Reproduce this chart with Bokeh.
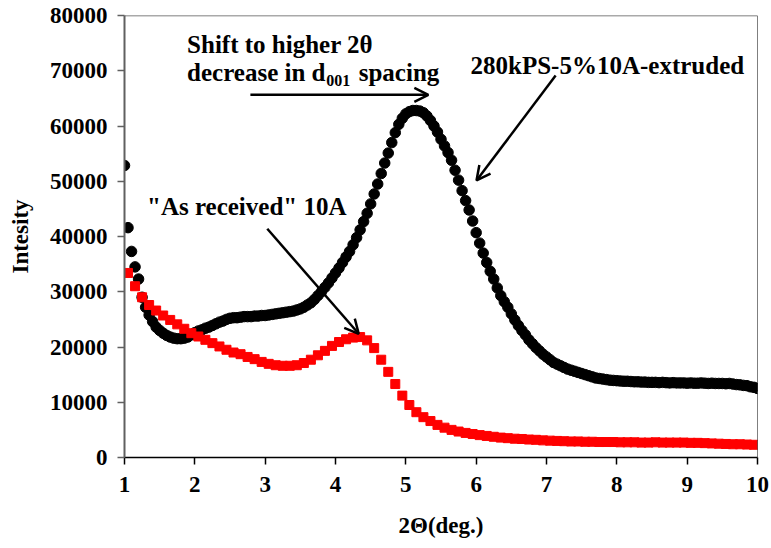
from bokeh.plotting import figure
from bokeh.models import FixedTicker, Label, Arrow, OpenHead, Span
from bokeh.embed import file_html
from bokeh.resources import INLINE

# ---- data ----
theta_black = [1.00, 1.05, 1.10, 1.15, 1.20, 1.25, 1.30, 1.35, 1.40, 1.45,
               1.50, 1.55, 1.60, 1.65, 1.70, 1.75, 1.80, 1.85, 1.90, 1.95,
               2.00, 2.05, 2.10, 2.15, 2.20, 2.25, 2.30, 2.35, 2.40, 2.45,
               2.50, 2.55, 2.60, 2.65, 2.70, 2.75, 2.80, 2.85, 2.90, 2.95,
               3.00, 3.05, 3.10, 3.15, 3.20, 3.25, 3.30, 3.35, 3.40, 3.45,
               3.50, 3.55, 3.60, 3.65, 3.70, 3.75, 3.80, 3.85, 3.90, 3.95,
               4.00, 4.05, 4.10, 4.15, 4.20, 4.25, 4.30, 4.35, 4.40, 4.45,
               4.50, 4.55, 4.60, 4.65, 4.70, 4.75, 4.80, 4.85, 4.90, 4.95,
               5.00, 5.05, 5.10, 5.15, 5.20, 5.25, 5.30, 5.35, 5.40, 5.45,
               5.50, 5.55, 5.60, 5.65, 5.70, 5.75, 5.80, 5.85, 5.90, 5.95,
               6.00, 6.05, 6.10, 6.15, 6.20, 6.25, 6.30, 6.35, 6.40, 6.45,
               6.50, 6.55, 6.60, 6.65, 6.70, 6.75, 6.80, 6.85, 6.90, 6.95,
               7.00, 7.05, 7.10, 7.15, 7.20, 7.25, 7.30, 7.35, 7.40, 7.45,
               7.50, 7.55, 7.60, 7.65, 7.70, 7.75, 7.80, 7.85, 7.90, 7.95,
               8.00, 8.05, 8.10, 8.15, 8.20, 8.25, 8.30, 8.35, 8.40, 8.45,
               8.50, 8.55, 8.60, 8.65, 8.70, 8.75, 8.80, 8.85, 8.90, 8.95,
               9.00, 9.05, 9.10, 9.15, 9.20, 9.25, 9.30, 9.35, 9.40, 9.45,
               9.50, 9.55, 9.60, 9.65, 9.70, 9.75, 9.80, 9.85, 9.90, 9.95,
               10.00]
int_extruded = [52850, 41600, 37300, 34500, 32300, 29000, 27200, 25800, 24600, 23600,
                23000, 22500, 22100, 21800, 21600, 21500, 21500, 21600, 21800, 22200,
                22600, 22900, 23100, 23400, 23600, 23900, 24200, 24500, 24700, 25000,
                25200, 25300, 25300, 25400, 25500, 25500, 25500, 25600, 25600, 25700,
                25700, 25800, 25900, 26000, 26100, 26200, 26300, 26400, 26500, 26700,
                26900, 27200, 27600, 28000, 28600, 29300, 30000, 30800, 31600, 32500,
                33400, 34300, 35300, 36300, 37300, 38500, 39800, 41200, 42700, 44200,
                45900, 47700, 49500, 51400, 53300, 55100, 57000, 58800, 60300, 61400,
                62200, 62600, 62800, 62800, 62700, 62400, 61800, 61000, 60000, 58900,
                57600, 56400, 55200, 53800, 52000, 50200, 48300, 46500, 44800, 42800,
                40700, 38800, 37000, 35300, 33700, 32300, 30700, 29300, 28200, 27200,
                26000, 24900, 23900, 23000, 22200, 21300, 20600, 19900, 19300, 18700,
                18200, 17700, 17200, 16900, 16600, 16300, 16000, 15800, 15600, 15400,
                15200, 15000, 14800, 14600, 14400, 14300, 14200, 14100, 14000, 13950,
                13900, 13850, 13800, 13800, 13750, 13700, 13700, 13650, 13650, 13600,
                13600, 13600, 13550, 13600, 13550, 13500, 13550, 13500, 13500, 13500,
                13450, 13500, 13450, 13450, 13500, 13450, 13400, 13450, 13400, 13400,
                13400, 13350, 13400, 13300, 13200, 13150, 13050, 13000, 12800, 12700,
                12500]

theta_red = [1.05, 1.15, 1.25, 1.35, 1.45, 1.55, 1.65, 1.75, 1.85, 1.95,
             2.05, 2.15, 2.25, 2.35, 2.45, 2.55, 2.65, 2.75, 2.85, 2.95,
             3.05, 3.15, 3.25, 3.35, 3.45, 3.55, 3.65, 3.75, 3.85, 3.95,
             4.05, 4.15, 4.25, 4.35, 4.45, 4.55, 4.65, 4.75, 4.85, 4.95,
             5.05, 5.15, 5.25, 5.35, 5.45, 5.55, 5.65, 5.75, 5.85, 5.95,
             6.05, 6.15, 6.25, 6.35, 6.45, 6.55, 6.65, 6.75, 6.85, 6.95,
             7.05, 7.15, 7.25, 7.35, 7.45, 7.55, 7.65, 7.75, 7.85, 7.95,
             8.05, 8.15, 8.25, 8.35, 8.45, 8.55, 8.65, 8.75, 8.85, 8.95,
             9.05, 9.15, 9.25, 9.35, 9.45, 9.55, 9.65, 9.75, 9.85, 9.95]
int_received = [33400, 31000, 29000, 27600, 26600, 25700, 24900, 24100, 23300, 22500,
                21900, 21300, 20700, 20100, 19500, 19000, 18700, 18200, 17800, 17300,
                16950, 16700, 16600, 16600, 16700, 17100, 17700, 18500, 19300, 20200,
                20900, 21400, 21700, 21800, 21200, 19800, 17700, 15500, 13300, 11200,
                9500, 8200, 7300, 6600, 5900, 5400, 5000, 4700, 4450, 4250,
                4050, 3900, 3750, 3600, 3500, 3400, 3350, 3250, 3200, 3100,
                3050, 3000, 2950, 2900, 2900, 2850, 2850, 2800, 2800, 2800,
                2750, 2750, 2750, 2700, 2700, 2750, 2700, 2700, 2700, 2700,
                2650, 2650, 2600, 2550, 2500, 2450, 2400, 2400, 2350, 2300]

x_ticks = [1, 2, 3, 4, 5, 6, 7, 8, 9, 10]
y_ticks = [0, 10000, 20000, 30000, 40000, 50000, 60000, 70000, 80000]

FONT = "'Liberation Serif', 'Times New Roman', serif"

p = figure(width=771, height=548, x_range=(1, 10), y_range=(0, 80000),
           output_backend="svg", toolbar_location=None,
           min_border_left=124, min_border_right=14,
           min_border_top=15, min_border_bottom=91)
p.xgrid.visible = False
p.ygrid.visible = False
p.outline_line_color = None
p.background_fill_color = "white"
p.border_fill_color = "white"

p.scatter(theta_black, int_extruded, marker="circle", size=10.5,
          fill_color="black", line_color="black")
p.scatter(theta_red, int_received, marker="square", size=9,
          fill_color="#ff0000", line_color="#ff0000")

p.add_layout(Span(location=80000, dimension="width", line_color="#555555", line_width=1.5))
p.add_layout(Span(location=10, dimension="height", line_color="black", line_width=1))

for ax, tk in ((p.xaxis, x_ticks), (p.yaxis, y_ticks)):
    ax.ticker = FixedTicker(ticks=tk)
    ax.major_tick_in = 0
    ax.major_tick_out = 7
    ax.minor_tick_line_color = None
    ax.major_label_text_font = FONT
    ax.major_label_text_font_style = "bold"
    ax.major_label_text_font_size = "23px"
    ax.major_label_text_color = "black"
    ax.axis_label_text_font = FONT
    ax.axis_label_text_font_style = "bold"
    ax.axis_label_text_font_size = "23px"
    ax.axis_label_text_color = "black"

p.xaxis.axis_line_color = "black"
p.xaxis.axis_line_width = 1.5
p.xaxis.major_tick_line_color = "black"
p.xaxis.major_tick_line_width = 1.5
p.xaxis.major_label_standoff = 12
p.xaxis.axis_label = "2Θ(deg.)"
p.xaxis.axis_label_standoff = 18

p.yaxis.axis_line_color = "#606060"
p.yaxis.axis_line_width = 2
p.yaxis.major_tick_line_color = "#606060"
p.yaxis.major_tick_line_width = 1.5
p.yaxis.major_label_standoff = 10
p.yaxis.axis_label = "Intesity"
p.yaxis.axis_label_standoff = 14

def lab(x, y, text, size="25px"):
    p.add_layout(Label(x=x, y=y, text=text, text_font=FONT, text_font_style="bold",
                       text_font_size=size, text_color="black",
                       text_baseline="alphabetic", text_align="left"))

lab(1.89, 74840, "Shift to higher 2θ")
lab(1.89, 69740, "decrease in d")
lab(3.87, 68240, "001", size="16px")
lab(4.33, 69740, "spacing")
lab(5.92, 70950, "280kPS-5%10A-extruded")
lab(1.32, 45430, "\"As received\" 10A")

def arrow(x0, y0, x1, y1):
    p.add_layout(Arrow(end=OpenHead(size=14, line_width=2.5, line_color="black"),
                       x_start=x0, y_start=y0, x_end=x1, y_end=y1,
                       line_width=2.5, line_color="black"))

arrow(2.79, 65650, 5.32, 65650)
arrow(7.13, 69140, 6.005, 50140)
arrow(3.03, 41400, 4.33, 22390)

open("out.html", "w").write(file_html(p, INLINE))
